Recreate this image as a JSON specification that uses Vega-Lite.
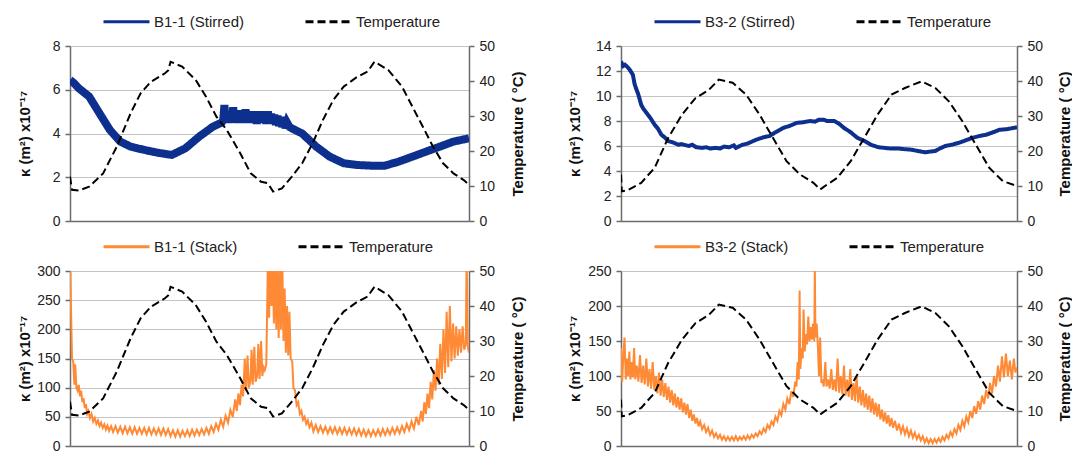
{
"$schema": "https://vega.github.io/schema/vega-lite/v6.json",
"background": "white",
"padding": {"left": 17, "top": -3, "right": 0, "bottom": 0},
"config": {
  "view": {"stroke": null},
  "font": "Liberation Sans",
  "axis": {"labelFont": "Liberation Sans", "labelFontSize": 14, "labelColor": "#222222", "titleFont": "Liberation Sans", "titleFontSize": 15, "titleFontWeight": "bold", "titleColor": "#111111", "domainColor": "#6b6b6b", "domainWidth": 1.5, "tickColor": "#6b6b6b", "tickWidth": 1.5, "tickSize": 5, "labelPadding": 5, "gridColor": "#c4c4c4", "gridWidth": 1},
  "legend": {"labelFont": "Liberation Sans", "labelFontSize": 15, "labelColor": "#222222", "symbolType": "stroke", "symbolSize": 2116, "symbolStrokeWidth": 3, "columnPadding": 54, "labelOffset": 3, "orient": "none", "direction": "horizontal", "offset": 0, "padding": 0}
},
"datasets": {
  "tempA": [{"t":0,"v":12.7},{"t":0.5,"v":8.9},{"t":2.2,"v":8.7},{"t":4.8,"v":9.8},{"t":8.3,"v":13.6},{"t":11.7,"v":21.2},{"t":15.2,"v":30.8},{"t":17.7,"v":36.5},{"t":20.3,"v":39.8},{"t":23.8,"v":42.2},{"t":24.6,"v":43},{"t":25.2,"v":45.5},{"t":28.1,"v":44.1},{"t":31.5,"v":40.3},{"t":34.1,"v":35.5},{"t":36.7,"v":29.8},{"t":39.3,"v":26},{"t":42.7,"v":19.3},{"t":45.3,"v":13.6},{"t":47.9,"v":11.2},{"t":49.6,"v":10.8},{"t":50.9,"v":8.4},{"t":53.1,"v":9.3},{"t":55.6,"v":12.7},{"t":58.2,"v":16.5},{"t":60.8,"v":22.2},{"t":63.4,"v":28.9},{"t":66,"v":34.6},{"t":68.6,"v":38.4},{"t":72,"v":41.2},{"t":74.6,"v":42.7},{"t":76.3,"v":45.5},{"t":79.8,"v":43.1},{"t":83.2,"v":38.4},{"t":85.8,"v":32.7},{"t":88.4,"v":27},{"t":91,"v":21.2},{"t":93.5,"v":16.5},{"t":96.1,"v":13.6},{"t":98.7,"v":11.7},{"t":100,"v":10.3}],
  "tempB": [{"t":0,"v":13.3},{"t":0.2,"v":8.5},{"t":1.7,"v":8.8},{"t":5.1,"v":10.9},{"t":8.5,"v":15.2},{"t":11.9,"v":23.7},{"t":15.4,"v":30.4},{"t":18.8,"v":35.1},{"t":22.2,"v":37.5},{"t":24.7,"v":40.4},{"t":28.2,"v":39.5},{"t":31.6,"v":36.1},{"t":35,"v":30.4},{"t":38.4,"v":23.7},{"t":41.8,"v":17.1},{"t":45.2,"v":13.3},{"t":48.6,"v":10.9},{"t":50.3,"v":9},{"t":52,"v":10.4},{"t":54.6,"v":12.3},{"t":58,"v":17.1},{"t":61.4,"v":23.7},{"t":64.8,"v":30.4},{"t":68.3,"v":36.1},{"t":71.7,"v":38},{"t":75.9,"v":39.9},{"t":79.4,"v":38},{"t":82.8,"v":34.2},{"t":86.2,"v":28.5},{"t":89.6,"v":21.8},{"t":93,"v":15.2},{"t":96.4,"v":11.4},{"t":100,"v":10}],
  "stirA": [{"t":0,"v":6.45},{"t":1,"v":6.3},{"t":2.2,"v":6.07},{"t":4.8,"v":5.69},{"t":7.4,"v":4.92},{"t":10,"v":4.16},{"t":12.6,"v":3.63},{"t":15.2,"v":3.4},{"t":18.6,"v":3.25},{"t":22,"v":3.12},{"t":25.5,"v":3.02},{"t":28.9,"v":3.32},{"t":32.4,"v":3.86},{"t":35.8,"v":4.31},{"t":38,"v":4.5},{"t":38.4,"v":4.6},{"t":38.7,"v":5.3},{"t":39,"v":4.55},{"t":39.4,"v":4.95},{"t":39.8,"v":4.5},{"t":40.2,"v":5},{"t":40.6,"v":4.5},{"t":40.9,"v":5.2},{"t":41.2,"v":4.55},{"t":41.6,"v":5},{"t":42,"v":4.5},{"t":42.4,"v":5.05},{"t":42.8,"v":4.5},{"t":43.2,"v":5},{"t":43.6,"v":4.55},{"t":44,"v":5.1},{"t":44.4,"v":4.5},{"t":44.8,"v":5},{"t":45.2,"v":4.5},{"t":45.6,"v":4.95},{"t":46,"v":4.5},{"t":46.4,"v":5},{"t":46.8,"v":4.45},{"t":47.2,"v":4.95},{"t":47.6,"v":4.5},{"t":48,"v":5},{"t":48.4,"v":4.5},{"t":48.8,"v":4.95},{"t":49.2,"v":4.45},{"t":49.6,"v":5},{"t":50,"v":4.45},{"t":50.4,"v":4.9},{"t":50.8,"v":4.45},{"t":51.2,"v":4.85},{"t":51.6,"v":4.4},{"t":52,"v":4.8},{"t":52.4,"v":4.35},{"t":52.8,"v":4.75},{"t":53.2,"v":4.3},{"t":53.6,"v":4.6},{"t":54,"v":4.25},{"t":54.4,"v":4.5},{"t":55,"v":4.3},{"t":56.5,"v":4.15},{"t":58.2,"v":4},{"t":61.7,"v":3.4},{"t":65.1,"v":2.94},{"t":68.6,"v":2.64},{"t":72,"v":2.56},{"t":75.4,"v":2.53},{"t":78.9,"v":2.53},{"t":82.3,"v":2.71},{"t":85.8,"v":2.94},{"t":89.2,"v":3.17},{"t":92.7,"v":3.4},{"t":96.1,"v":3.63},{"t":100,"v":3.78}],
  "stirB": [{"t":0,"v":12.77},{"t":0.5,"v":12.4},{"t":1,"v":12.5},{"t":1.7,"v":12.3},{"t":2.2,"v":12.1},{"t":3,"v":11.7},{"t":3.4,"v":11},{"t":3.8,"v":10.6},{"t":4.3,"v":10.2},{"t":5.1,"v":9.3},{"t":5.6,"v":9},{"t":6.8,"v":8.5},{"t":7.5,"v":8.2},{"t":8.5,"v":7.7},{"t":9.3,"v":7.4},{"t":10.2,"v":6.9},{"t":11,"v":6.7},{"t":11.9,"v":6.4},{"t":13,"v":6.3},{"t":14.5,"v":6.1},{"t":15.3,"v":6.15},{"t":17.1,"v":6},{"t":18,"v":6.1},{"t":19,"v":5.9},{"t":20.5,"v":5.85},{"t":21.5,"v":5.9},{"t":22.5,"v":5.8},{"t":23.9,"v":5.85},{"t":25,"v":5.8},{"t":26,"v":5.95},{"t":27.3,"v":5.9},{"t":28.5,"v":6.05},{"t":29,"v":5.85},{"t":30.7,"v":6.1},{"t":32,"v":6.2},{"t":34.1,"v":6.5},{"t":36,"v":6.7},{"t":37.5,"v":6.8},{"t":39,"v":7.1},{"t":41,"v":7.45},{"t":42.5,"v":7.6},{"t":44.4,"v":7.85},{"t":46,"v":7.9},{"t":47.8,"v":8},{"t":49,"v":7.95},{"t":50,"v":8.1},{"t":51.2,"v":8.1},{"t":52,"v":8},{"t":53.8,"v":8},{"t":55,"v":7.8},{"t":56.3,"v":7.45},{"t":58,"v":7.1},{"t":59.7,"v":6.65},{"t":61.5,"v":6.4},{"t":63.1,"v":6.1},{"t":65,"v":5.9},{"t":66.6,"v":5.85},{"t":68,"v":5.8},{"t":70,"v":5.8},{"t":71.5,"v":5.75},{"t":73.4,"v":5.7},{"t":75,"v":5.6},{"t":76.8,"v":5.5},{"t":78,"v":5.55},{"t":79.4,"v":5.6},{"t":80.5,"v":5.8},{"t":81.9,"v":6},{"t":83.5,"v":6.1},{"t":85.3,"v":6.25},{"t":87,"v":6.45},{"t":88.7,"v":6.65},{"t":90.5,"v":6.8},{"t":92.2,"v":6.9},{"t":94,"v":7.1},{"t":95.6,"v":7.3},{"t":97.5,"v":7.35},{"t":100,"v":7.5}],
  "stackA": [{"t":0,"v":330},{"t":0.3,"v":220},{"t":0.5,"v":150},{"t":0.8,"v":145},{"t":1.1,"v":105},{"t":1.3,"v":140},{"t":1.6,"v":100},{"t":1.9,"v":95},{"t":2.2,"v":105},{"t":2.5,"v":85},{"t":2.8,"v":95},{"t":3.1,"v":75},{"t":3.4,"v":82},{"t":3.7,"v":65},{"t":4,"v":72},{"t":4.3,"v":55},{"t":4.6,"v":60},{"t":5,"v":48},{"t":5.4,"v":55},{"t":5.8,"v":42},{"t":6.2,"v":48},{"t":6.6,"v":38},{"t":7,"v":44},{"t":7.4,"v":34},{"t":7.8,"v":40},{"t":8.2,"v":31},{"t":8.6,"v":37},{"t":9,"v":28},{"t":9.4,"v":35},{"t":9.8,"v":26},{"t":10.3,"v":34},{"t":10.8,"v":24},{"t":11.4,"v":34},{"t":12,"v":23},{"t":12.6,"v":33},{"t":13.2,"v":22},{"t":13.8,"v":33},{"t":14.4,"v":22},{"t":15,"v":32},{"t":15.6,"v":21},{"t":16.2,"v":32},{"t":16.8,"v":21},{"t":17.4,"v":31},{"t":18,"v":21},{"t":18.6,"v":31},{"t":19.2,"v":20},{"t":19.8,"v":31},{"t":20.4,"v":20},{"t":21,"v":30},{"t":21.6,"v":20},{"t":22.2,"v":30},{"t":22.8,"v":19},{"t":23.4,"v":30},{"t":24,"v":19},{"t":24.6,"v":29},{"t":25.2,"v":17},{"t":25.8,"v":27},{"t":26.4,"v":16},{"t":27,"v":27},{"t":27.6,"v":16},{"t":28.2,"v":26},{"t":28.8,"v":17},{"t":29.4,"v":27},{"t":30,"v":17},{"t":30.6,"v":28},{"t":31.2,"v":18},{"t":31.8,"v":28},{"t":32.4,"v":19},{"t":33,"v":29},{"t":33.6,"v":20},{"t":34.2,"v":31},{"t":34.8,"v":21},{"t":35.4,"v":34},{"t":36,"v":24},{"t":36.6,"v":38},{"t":37.2,"v":28},{"t":37.8,"v":45},{"t":38.4,"v":33},{"t":39,"v":52},{"t":39.6,"v":40},{"t":40.2,"v":62},{"t":40.8,"v":50},{"t":41.4,"v":80},{"t":41.8,"v":60},{"t":42.2,"v":90},{"t":42.6,"v":70},{"t":43,"v":105},{"t":43.4,"v":85},{"t":43.8,"v":150},{"t":44.1,"v":95},{"t":44.5,"v":155},{"t":44.8,"v":100},{"t":45.2,"v":110},{"t":45.5,"v":165},{"t":45.8,"v":105},{"t":46.2,"v":170},{"t":46.5,"v":110},{"t":46.9,"v":120},{"t":47.2,"v":175},{"t":47.5,"v":115},{"t":47.9,"v":180},{"t":48.2,"v":120},{"t":48.5,"v":135},{"t":48.8,"v":130},{"t":49.2,"v":140},{"t":49.6,"v":320},{"t":49.9,"v":220},{"t":50.2,"v":330},{"t":50.5,"v":240},{"t":50.8,"v":320},{"t":51.1,"v":210},{"t":51.4,"v":330},{"t":51.7,"v":200},{"t":52,"v":300},{"t":52.3,"v":185},{"t":52.6,"v":330},{"t":52.9,"v":200},{"t":53.2,"v":320},{"t":53.5,"v":180},{"t":53.8,"v":270},{"t":54.1,"v":160},{"t":54.4,"v":240},{"t":54.7,"v":155},{"t":55,"v":230},{"t":55.3,"v":150},{"t":55.7,"v":145},{"t":56,"v":100},{"t":56.4,"v":95},{"t":56.8,"v":70},{"t":57.2,"v":75},{"t":57.6,"v":55},{"t":58,"v":60},{"t":58.4,"v":45},{"t":58.8,"v":50},{"t":59.2,"v":38},{"t":59.6,"v":44},{"t":60,"v":32},{"t":60.5,"v":40},{"t":61,"v":25},{"t":61.6,"v":36},{"t":62.2,"v":24},{"t":62.8,"v":34},{"t":63.4,"v":23},{"t":64,"v":33},{"t":64.6,"v":22},{"t":65.2,"v":32},{"t":65.8,"v":22},{"t":66.4,"v":32},{"t":67,"v":21},{"t":67.6,"v":31},{"t":68.2,"v":21},{"t":68.8,"v":31},{"t":69.4,"v":20},{"t":70,"v":30},{"t":70.6,"v":20},{"t":71.2,"v":30},{"t":71.8,"v":19},{"t":72.4,"v":29},{"t":73,"v":18},{"t":73.6,"v":28},{"t":74.2,"v":17},{"t":74.8,"v":27},{"t":75.4,"v":17},{"t":76,"v":27},{"t":76.6,"v":18},{"t":77.2,"v":28},{"t":77.8,"v":18},{"t":78.4,"v":29},{"t":79,"v":19},{"t":79.6,"v":29},{"t":80.2,"v":20},{"t":80.8,"v":31},{"t":81.4,"v":21},{"t":82,"v":32},{"t":82.6,"v":22},{"t":83.2,"v":34},{"t":83.8,"v":24},{"t":84.4,"v":38},{"t":85,"v":27},{"t":85.6,"v":42},{"t":86.2,"v":30},{"t":86.8,"v":50},{"t":87.4,"v":36},{"t":88,"v":60},{"t":88.4,"v":42},{"t":88.8,"v":75},{"t":89.2,"v":55},{"t":89.6,"v":90},{"t":90,"v":65},{"t":90.4,"v":110},{"t":90.8,"v":80},{"t":91.2,"v":130},{"t":91.6,"v":95},{"t":92,"v":150},{"t":92.4,"v":105},{"t":92.8,"v":175},{"t":93.2,"v":115},{"t":93.6,"v":200},{"t":94,"v":125},{"t":94.4,"v":230},{"t":94.8,"v":135},{"t":95.2,"v":240},{"t":95.6,"v":145},{"t":96,"v":210},{"t":96.4,"v":150},{"t":96.8,"v":205},{"t":97.2,"v":155},{"t":97.6,"v":200},{"t":98,"v":160},{"t":98.4,"v":205},{"t":98.8,"v":165},{"t":99.2,"v":175},{"t":99.4,"v":330},{"t":99.7,"v":170},{"t":100,"v":160}],
  "stackB": [{"t":0,"v":140},{"t":0.3,"v":92},{"t":0.6,"v":130},{"t":0.9,"v":155},{"t":1.2,"v":95},{"t":1.5,"v":125},{"t":1.8,"v":100},{"t":2.1,"v":135},{"t":2.4,"v":95},{"t":2.7,"v":120},{"t":3,"v":98},{"t":3.3,"v":140},{"t":3.6,"v":95},{"t":4,"v":115},{"t":4.4,"v":92},{"t":4.8,"v":130},{"t":5.2,"v":90},{"t":5.6,"v":115},{"t":6,"v":88},{"t":6.4,"v":125},{"t":6.8,"v":85},{"t":7.2,"v":110},{"t":7.6,"v":82},{"t":8,"v":120},{"t":8.4,"v":80},{"t":8.8,"v":100},{"t":9.2,"v":75},{"t":9.6,"v":105},{"t":10,"v":72},{"t":10.4,"v":95},{"t":10.8,"v":70},{"t":11.2,"v":90},{"t":11.6,"v":66},{"t":12,"v":85},{"t":12.4,"v":62},{"t":12.8,"v":80},{"t":13.2,"v":58},{"t":13.6,"v":75},{"t":14,"v":55},{"t":14.4,"v":70},{"t":14.8,"v":52},{"t":15.2,"v":68},{"t":15.6,"v":48},{"t":16,"v":62},{"t":16.4,"v":45},{"t":16.8,"v":60},{"t":17.2,"v":40},{"t":17.6,"v":52},{"t":18,"v":36},{"t":18.4,"v":45},{"t":18.8,"v":32},{"t":19.2,"v":40},{"t":19.6,"v":28},{"t":20,"v":35},{"t":20.5,"v":24},{"t":21,"v":30},{"t":21.5,"v":20},{"t":22,"v":26},{"t":22.5,"v":16},{"t":23,"v":22},{"t":23.5,"v":13},{"t":24,"v":18},{"t":24.5,"v":11},{"t":25,"v":16},{"t":25.5,"v":9},{"t":26,"v":14},{"t":26.5,"v":8},{"t":27,"v":13},{"t":27.5,"v":8},{"t":28,"v":13},{"t":28.5,"v":8},{"t":29,"v":14},{"t":29.5,"v":8},{"t":30,"v":13},{"t":30.5,"v":9},{"t":31,"v":14},{"t":31.5,"v":9},{"t":32,"v":15},{"t":32.5,"v":10},{"t":33,"v":16},{"t":33.5,"v":12},{"t":34,"v":18},{"t":34.5,"v":14},{"t":35,"v":21},{"t":35.5,"v":17},{"t":36,"v":25},{"t":36.5,"v":20},{"t":37,"v":30},{"t":37.5,"v":25},{"t":38,"v":35},{"t":38.5,"v":30},{"t":39,"v":42},{"t":39.5,"v":36},{"t":40,"v":50},{"t":40.5,"v":44},{"t":41,"v":60},{"t":41.5,"v":52},{"t":42,"v":68},{"t":42.5,"v":60},{"t":43,"v":78},{"t":43.5,"v":70},{"t":44,"v":92},{"t":44.3,"v":85},{"t":44.6,"v":120},{"t":44.9,"v":95},{"t":45.1,"v":222},{"t":45.3,"v":110},{"t":45.6,"v":140},{"t":45.9,"v":125},{"t":46.1,"v":195},{"t":46.4,"v":135},{"t":46.7,"v":160},{"t":47,"v":145},{"t":47.3,"v":185},{"t":47.6,"v":150},{"t":47.9,"v":170},{"t":48.2,"v":152},{"t":48.5,"v":175},{"t":48.8,"v":150},{"t":48.95,"v":255},{"t":49.1,"v":155},{"t":49.4,"v":175},{"t":49.7,"v":145},{"t":50,"v":100},{"t":50.3,"v":155},{"t":50.6,"v":90},{"t":50.9,"v":95},{"t":51.2,"v":85},{"t":51.6,"v":120},{"t":51.9,"v":85},{"t":52.3,"v":95},{"t":52.7,"v":82},{"t":53.1,"v":110},{"t":53.5,"v":80},{"t":53.9,"v":95},{"t":54.3,"v":78},{"t":54.7,"v":125},{"t":55.1,"v":76},{"t":55.5,"v":100},{"t":55.9,"v":74},{"t":56.3,"v":115},{"t":56.7,"v":72},{"t":57.1,"v":95},{"t":57.5,"v":70},{"t":57.9,"v":110},{"t":58.3,"v":66},{"t":58.7,"v":90},{"t":59.1,"v":64},{"t":59.5,"v":100},{"t":59.9,"v":62},{"t":60.3,"v":85},{"t":60.7,"v":58},{"t":61.1,"v":80},{"t":61.5,"v":55},{"t":61.9,"v":75},{"t":62.3,"v":52},{"t":62.7,"v":72},{"t":63.1,"v":48},{"t":63.5,"v":68},{"t":63.9,"v":45},{"t":64.3,"v":62},{"t":64.7,"v":42},{"t":65.1,"v":60},{"t":65.5,"v":38},{"t":65.9,"v":52},{"t":66.3,"v":35},{"t":66.7,"v":48},{"t":67.1,"v":32},{"t":67.5,"v":44},{"t":67.9,"v":28},{"t":68.3,"v":40},{"t":68.7,"v":26},{"t":69.2,"v":36},{"t":69.7,"v":22},{"t":70.2,"v":32},{"t":70.7,"v":19},{"t":71.2,"v":28},{"t":71.7,"v":17},{"t":72.2,"v":25},{"t":72.7,"v":14},{"t":73.2,"v":22},{"t":73.7,"v":12},{"t":74.2,"v":19},{"t":74.7,"v":10},{"t":75.2,"v":16},{"t":75.7,"v":8},{"t":76.2,"v":14},{"t":76.7,"v":5},{"t":77.2,"v":11},{"t":77.7,"v":4},{"t":78.2,"v":10},{"t":78.7,"v":4},{"t":79.2,"v":10},{"t":79.7,"v":5},{"t":80.2,"v":11},{"t":80.7,"v":6},{"t":81.2,"v":13},{"t":81.7,"v":8},{"t":82.2,"v":16},{"t":82.7,"v":11},{"t":83.2,"v":20},{"t":83.7,"v":14},{"t":84.2,"v":24},{"t":84.7,"v":18},{"t":85.2,"v":30},{"t":85.7,"v":23},{"t":86.2,"v":36},{"t":86.7,"v":28},{"t":87.2,"v":42},{"t":87.7,"v":34},{"t":88.2,"v":50},{"t":88.7,"v":40},{"t":89.2,"v":57},{"t":89.7,"v":46},{"t":90.2,"v":64},{"t":90.7,"v":52},{"t":91.2,"v":72},{"t":91.7,"v":60},{"t":92.2,"v":80},{"t":92.7,"v":68},{"t":93.2,"v":90},{"t":93.7,"v":75},{"t":94.2,"v":100},{"t":94.7,"v":85},{"t":95.2,"v":115},{"t":95.7,"v":92},{"t":96.2,"v":128},{"t":96.7,"v":98},{"t":97.2,"v":132},{"t":97.7,"v":100},{"t":98.2,"v":122},{"t":98.7,"v":95},{"t":99.2,"v":125},{"t":99.6,"v":105},{"t":100,"v":112}]
},
"bounds": "flush",
"columns": 2,
"spacing": {"row": 50, "column": 152},
"resolve": {"scale": {"color": "independent", "strokeDash": "independent", "x": "independent", "y": "independent"}, "legend": {"color": "independent", "strokeDash": "independent"}},
"concat": [
  {"width": 399, "height": 175,
   "resolve": {"scale": {"y": "independent"}},
   "layer": [
    {"data": {"name": "stirA"}, "mark": {"type": "line", "strokeWidth": 8, "clip": true},
     "encoding": {
      "x": {"field": "t", "type": "quantitative", "scale": {"domain": [0, 100], "nice": false}, "axis": {"labels": false, "ticks": false, "grid": false, "title": null}},
      "y": {"field": "v", "type": "quantitative", "scale": {"domain": [0, 8], "nice": false}, "axis": {"orient": "left", "values": [0, 2, 4, 6, 8], "grid": true, "title": "κ  (m²) x10⁻¹⁷", "titleX": -38}},
      "color": {"datum": "B1-1 (Stirred)", "type": "nominal", "scale": {"domain": ["B1-1 (Stirred)", "Temperature"], "range": ["#0D2F8E", "#000000"]}, "legend": {"title": null, "orient": "none", "legendX": 32, "legendY": -49, "direction": "horizontal", "symbolStrokeWidth": 3}},
      "strokeDash": {"datum": "B1-1 (Stirred)", "type": "nominal", "scale": {"domain": ["B1-1 (Stirred)", "Temperature"], "range": [[1, 0], [8, 4]]}, "legend": {"title": null, "orient": "none", "legendX": 32, "legendY": -49, "direction": "horizontal", "symbolStrokeWidth": 3}}
     }},
    {"data": {"name": "tempA"}, "mark": {"type": "line", "strokeWidth": 2, "clip": true},
     "encoding": {
      "x": {"field": "t", "type": "quantitative"},
      "y": {"field": "v", "type": "quantitative", "scale": {"domain": [0, 50], "nice": false}, "axis": {"orient": "right", "values": [0, 10, 20, 30, 40, 50], "grid": false, "title": "Temperature ( °C)", "titleAngle": 270, "titleBaseline": "bottom", "titleX": 56}},
      "color": {"datum": "Temperature", "type": "nominal"},
      "strokeDash": {"datum": "Temperature", "type": "nominal"}
     }}
   ]},
  {"width": 396, "height": 175,
   "resolve": {"scale": {"y": "independent"}},
   "layer": [
    {"data": {"name": "stirB"}, "mark": {"type": "line", "strokeWidth": 4, "clip": true},
     "encoding": {
      "x": {"field": "t", "type": "quantitative", "scale": {"domain": [0, 100], "nice": false}, "axis": {"labels": false, "ticks": false, "grid": false, "title": null}},
      "y": {"field": "v", "type": "quantitative", "scale": {"domain": [0, 14], "nice": false}, "axis": {"orient": "left", "values": [0, 2, 4, 6, 8, 10, 12, 14], "grid": true, "title": "κ  (m²) x10⁻¹⁷", "titleX": -39}},
      "color": {"datum": "B3-2 (Stirred)", "type": "nominal", "scale": {"domain": ["B3-2 (Stirred)", "Temperature"], "range": ["#0D2F8E", "#000000"]}, "legend": {"title": null, "orient": "none", "legendX": 32, "legendY": -49, "direction": "horizontal", "symbolStrokeWidth": 3}},
      "strokeDash": {"datum": "B3-2 (Stirred)", "type": "nominal", "scale": {"domain": ["B3-2 (Stirred)", "Temperature"], "range": [[1, 0], [8, 4]]}, "legend": {"title": null, "orient": "none", "legendX": 32, "legendY": -49, "direction": "horizontal", "symbolStrokeWidth": 3}}
     }},
    {"data": {"name": "tempB"}, "mark": {"type": "line", "strokeWidth": 2, "clip": true},
     "encoding": {
      "x": {"field": "t", "type": "quantitative"},
      "y": {"field": "v", "type": "quantitative", "scale": {"domain": [0, 50], "nice": false}, "axis": {"orient": "right", "values": [0, 10, 20, 30, 40, 50], "grid": false, "title": "Temperature ( °C)", "titleAngle": 270, "titleBaseline": "bottom", "titleX": 55}},
      "color": {"datum": "Temperature", "type": "nominal"},
      "strokeDash": {"datum": "Temperature", "type": "nominal"}
     }}
   ]},
  {"width": 399, "height": 175,
   "resolve": {"scale": {"y": "independent"}},
   "layer": [
    {"data": {"name": "stackA"}, "mark": {"type": "line", "strokeWidth": 2, "clip": true},
     "encoding": {
      "x": {"field": "t", "type": "quantitative", "scale": {"domain": [0, 100], "nice": false}, "axis": {"labels": false, "ticks": false, "grid": false, "title": null}},
      "y": {"field": "v", "type": "quantitative", "scale": {"domain": [0, 300], "nice": false}, "axis": {"orient": "left", "values": [0, 50, 100, 150, 200, 250, 300], "grid": true, "title": "κ  (m²) x10⁻¹⁷", "titleX": -38}},
      "color": {"datum": "B1-1 (Stack)", "type": "nominal", "scale": {"domain": ["B1-1 (Stack)", "Temperature"], "range": ["#FF8A35", "#000000"]}, "legend": {"title": null, "orient": "none", "legendX": 32, "legendY": -49, "direction": "horizontal", "symbolStrokeWidth": 3}},
      "strokeDash": {"datum": "B1-1 (Stack)", "type": "nominal", "scale": {"domain": ["B1-1 (Stack)", "Temperature"], "range": [[1, 0], [8, 4]]}, "legend": {"title": null, "orient": "none", "legendX": 32, "legendY": -49, "direction": "horizontal", "symbolStrokeWidth": 3}}
     }},
    {"data": {"name": "tempA"}, "mark": {"type": "line", "strokeWidth": 2, "clip": true},
     "encoding": {
      "x": {"field": "t", "type": "quantitative"},
      "y": {"field": "v", "type": "quantitative", "scale": {"domain": [0, 50], "nice": false}, "axis": {"orient": "right", "values": [0, 10, 20, 30, 40, 50], "grid": false, "title": "Temperature ( °C)", "titleAngle": 270, "titleBaseline": "bottom", "titleX": 56}},
      "color": {"datum": "Temperature", "type": "nominal"},
      "strokeDash": {"datum": "Temperature", "type": "nominal"}
     }}
   ]},
  {"width": 396, "height": 175,
   "resolve": {"scale": {"y": "independent"}},
   "layer": [
    {"data": {"name": "stackB"}, "mark": {"type": "line", "strokeWidth": 2, "clip": true},
     "encoding": {
      "x": {"field": "t", "type": "quantitative", "scale": {"domain": [0, 100], "nice": false}, "axis": {"labels": false, "ticks": false, "grid": false, "title": null}},
      "y": {"field": "v", "type": "quantitative", "scale": {"domain": [0, 250], "nice": false}, "axis": {"orient": "left", "values": [0, 50, 100, 150, 200, 250], "grid": true, "title": "κ  (m²) x10⁻¹⁷", "titleX": -39}},
      "color": {"datum": "B3-2 (Stack)", "type": "nominal", "scale": {"domain": ["B3-2 (Stack)", "Temperature"], "range": ["#FF8A35", "#000000"]}, "legend": {"title": null, "orient": "none", "legendX": 32, "legendY": -49, "direction": "horizontal", "symbolStrokeWidth": 3}},
      "strokeDash": {"datum": "B3-2 (Stack)", "type": "nominal", "scale": {"domain": ["B3-2 (Stack)", "Temperature"], "range": [[1, 0], [8, 4]]}, "legend": {"title": null, "orient": "none", "legendX": 32, "legendY": -49, "direction": "horizontal", "symbolStrokeWidth": 3}}
     }},
    {"data": {"name": "tempB"}, "mark": {"type": "line", "strokeWidth": 2, "clip": true},
     "encoding": {
      "x": {"field": "t", "type": "quantitative"},
      "y": {"field": "v", "type": "quantitative", "scale": {"domain": [0, 50], "nice": false}, "axis": {"orient": "right", "values": [0, 10, 20, 30, 40, 50], "grid": false, "title": "Temperature ( °C)", "titleAngle": 270, "titleBaseline": "bottom", "titleX": 55}},
      "color": {"datum": "Temperature", "type": "nominal"},
      "strokeDash": {"datum": "Temperature", "type": "nominal"}
     }}
   ]}
]
}
